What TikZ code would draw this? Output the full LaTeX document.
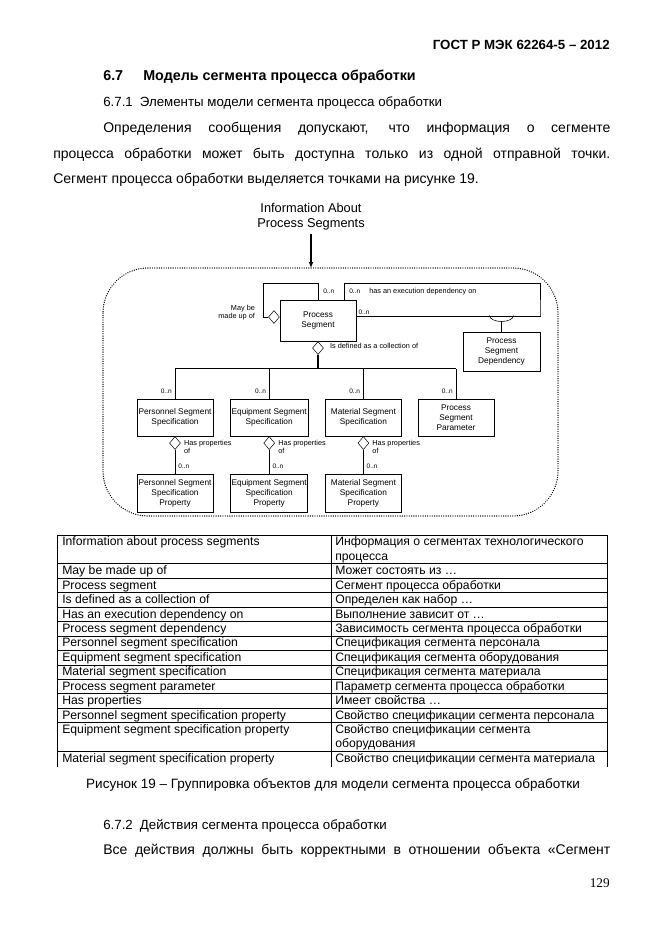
\documentclass[tikz,border=0pt]{standalone}
\usepackage{fontspec}
\setmainfont{Liberation Sans}
\newfontfamily\pagenumfont{Liberation Serif}
\usetikzlibrary{
  arrows.meta,
  calc,
  positioning,
  shapes.geometric
}

\tikzset{
  body/.style={font=\fontsize{14}{16}\selectfont, inner sep=0pt},
  subhead/.style={font=\fontsize{13.3}{16}\selectfont, inner sep=0pt},
  boldbody/.style={font=\fontsize{13.3}{16}\selectfont\bfseries, inner sep=0pt},
  entity/.style={draw, line width=0.6pt, minimum width=76pt, minimum height=37pt,
    align=center, inner sep=1pt, font=\fontsize{8.3}{10}\selectfont},
  entitybold/.style={entity, line width=1pt, minimum height=38pt},
  aggr/.style={diamond, draw, fill=white, line width=0.5pt, minimum width=11pt,
    minimum height=13pt, inner sep=0pt},
  mult/.style={font=\fontsize{6.5}{7}\selectfont, inner sep=0pt},
  rolelbl/.style={font=\fontsize{7.3}{8.5}\selectfont, inner sep=0pt},
  cell/.style={font=\fontsize{12.2}{14}\selectfont, inner sep=0pt, anchor=base west}
}

\begin{document}
\begin{tikzpicture}[x=1pt, y=-1pt, line width=0.6pt]
  \fill[white] (0,0) rectangle (662,935);
  \useasboundingbox (0,0) rectangle (662,935);
  % Page text above the figure
  \node[boldbody, anchor=mid east] (gost) at (610,47) {ГОСТ Р МЭК 62264-5 – 2012};
  \node[boldbody, font=\fontsize{14.3}{16}\selectfont\bfseries, anchor=mid west] (secnum) at (103,78) {6.7};
  \node[boldbody, font=\fontsize{14.3}{16}\selectfont\bfseries, anchor=mid west] (sectitle) at (143,78) {Модель сегмента процесса обработки};
  \node[subhead, anchor=mid west] (subsec) at (103,104) {6.7.1\hspace{7pt}Элементы модели сегмента процесса обработки};
  \node[body, anchor=mid west] (par1) at (103,130) {\makebox[507pt][s]{Определения сообщения допускают, что информация о сегменте}};
  \node[body, anchor=mid west] (par2) at (53,156) {\makebox[557pt][s]{процесса обработки может быть доступна только из одной отправной точки.}};
  \node[body, anchor=mid west] (par3) at (53,181) {Сегмент процесса обработки выделяется точками на рисунке 19.};

  % Entry point and dotted frame
  \node[font=\fontsize{12.8}{15}\selectfont, align=center, inner sep=0pt] (info) at (311,217) {Information About\\Process Segments};
  \coordinate (frametop) at (311,268);
  \draw[line width=1.4pt, -{Latex[length=6pt,width=5pt]}] ([yshift=-3pt]info.south) -- (frametop);
  \draw[line width=1.3pt, dash pattern=on 0.1pt off 2.2pt, line cap=round, rounded corners=45pt]
    (103,268) rectangle (558,516);

  % Classes
  \node[entity, minimum height=41pt] (ps) at (318,320.5) {Process\\Segment};
  \node[entitybold, minimum width=77pt, minimum height=39pt] (psd) at (501.5,351.5) {Process\\Segment\\Dependency};
  \node[entity] (pss) at (175,417.5) {Personnel Segment\\Specification};
  \node[entity, right=17pt of pss] (ess) {Equipment Segment\\Specification};
  \node[entity, right=17pt of ess] (mss) {Material Segment\\Specification};
  \node[entity, right=16pt of mss] (psp) {Process\\Segment\\Parameter};
  \node[entitybold, below=38pt of pss] (pssp) {Personnel Segment\\Specification\\Property};
  \node[entitybold, below=38pt of ess] (essp) {Equipment Segment\\Specification\\Property};
  \node[entitybold, below=38pt of mss] (mssp) {Material Segment\\Specification\\Property};

  % Aggregation diamonds
  \node[aggr, anchor=east] (dmade) at ([yshift=3.5pt]ps.west) {};
  \node[aggr, anchor=north] (dcoll) at (ps.south) {};
  \node[aggr, anchor=north] (dpss) at (pss.south) {};
  \node[aggr, anchor=north] (dess) at (ess.south) {};
  \node[aggr, anchor=north] (dmss) at (mss.south) {};

  % May be made up of
  \draw (dmade.west) -- ++(-5,0) |- ([yshift=16pt]ps.north) -- (ps.north);
  % Execution dependency
  \draw ([xshift=26pt]ps.north) -- ++(0,-16) -| ([shift={(38.5pt,16pt)}]psd.north) |- ([yshift=4.5pt]ps.east);
  \draw ([shift={(-12pt,16pt)}]psd.north) arc[start angle=180, end angle=0, x radius=12, y radius=6];
  \draw (psd.north) -- ++(0,-10);
  % Is defined as a collection of
  \coordinate (bus) at ([yshift=-14pt]dcoll.south);
  \draw[line width=1.1pt] (dcoll.south) -- (bus);
  \draw[line width=1.1pt] (pss.north |- bus) -- (psp.north |- bus);
  \foreach \n in {pss,ess,mss,psp}
    \draw (\n.north |- bus) -- (\n.north);
  % Has properties
  \foreach \a/\b in {pss/pssp,ess/essp,mss/mssp}
    \draw (d\a.south) -- (\b.north);

  % Labels
  \node[mult, anchor=mid west] at ([shift={(5pt,9pt)}]ps.north) {0..n};
  \node[mult, anchor=mid west] at ([shift={(31pt,9pt)}]ps.north) {0..n};
  \node[rolelbl, anchor=mid west] at ([shift={(51pt,9pt)}]ps.north) {has an execution dependency on};
  \node[mult, anchor=mid west] at ([shift={(2pt,8.5pt)}]ps.east) {0..n};
  \node[rolelbl, anchor=east, align=right] at ([shift={(-13pt,4.5pt)}]dmade.west) {May be\\made up of};
  \node[rolelbl, anchor=west] at ([shift={(6pt,2pt)}]dcoll.east) {Is defined as a collection of};
  \foreach \n in {pss,ess,mss,psp}
    \node[mult, anchor=mid east] at ([shift={(-3pt,8pt)}]\n.north) {0..n};
  \foreach \n in {pssp,essp,mssp}
    \node[mult, anchor=mid west] at ([shift={(3pt,8pt)}]\n.north) {0..n};
  \foreach \n in {dpss,dess,dmss}
    \node[rolelbl, anchor=west, align=left] at ([shift={(3pt,-4pt)}]\n.east) {Has properties\\of};

  % Table of terms
  \foreach \k in {0,2,3,4,5,6,7,8,9,10,11,12,13,15}
    \draw[line width=0.9pt] (57,535+14.44*\k) -- (607,535+14.44*\k);
  \foreach \x in {57,331,607}
    \draw[line width=0.9pt] (\x,535) -- (\x,767);
  \foreach \k/\en/\ru in {
      0/Information about process segments/Информация о сегментах технологического,
      2/May be made up of/Может состоять из …,
      3/Process segment/Сегмент процесса обработки,
      4/Is defined as a collection of/Определен как набор …,
      5/Has an execution dependency on/Выполнение зависит от …,
      6/Process segment dependency/Зависимость сегмента процесса обработки,
      7/Personnel segment specification/Спецификация сегмента персонала,
      8/Equipment segment specification/Спецификация сегмента оборудования,
      9/Material segment specification/Спецификация сегмента материала,
      10/Process segment parameter/Параметр сегмента процесса обработки,
      11/Has properties/Имеет свойства …,
      12/Personnel segment specification property/Свойство спецификации сегмента персонала,
      13/Equipment segment specification property/Свойство спецификации сегмента,
      15/Material segment specification property/Свойство спецификации сегмента материала} {
    \node[cell] at (62,535+14.44*\k+10.8) {\en};
    \node[cell] at (335,535+14.44*\k+10.8) {\ru};
  }
  \node[cell] at (335,535+14.44*1+10.8) {процесса};
  \node[cell] at (335,535+14.44*14+10.8) {оборудования};

  % Caption and text below
  \node[body, font=\fontsize{13.5}{16}\selectfont] (caption) at (333,785) {Рисунок 19 – Группировка объектов для модели сегмента процесса обработки};
  \node[subhead, anchor=mid west] (subsec2) at (103,827) {6.7.2\hspace{7pt}Действия сегмента процесса обработки};
  \node[body, anchor=mid west] (par4) at (103,852) {\makebox[507pt][s]{Все действия должны быть корректными в отношении объекта «Сегмент}};
  \node[font=\pagenumfont\fontsize{13.3}{16}\selectfont, inner sep=0pt, anchor=mid east] (pagenum) at (610,885) {129};
\end{tikzpicture}
\end{document}
